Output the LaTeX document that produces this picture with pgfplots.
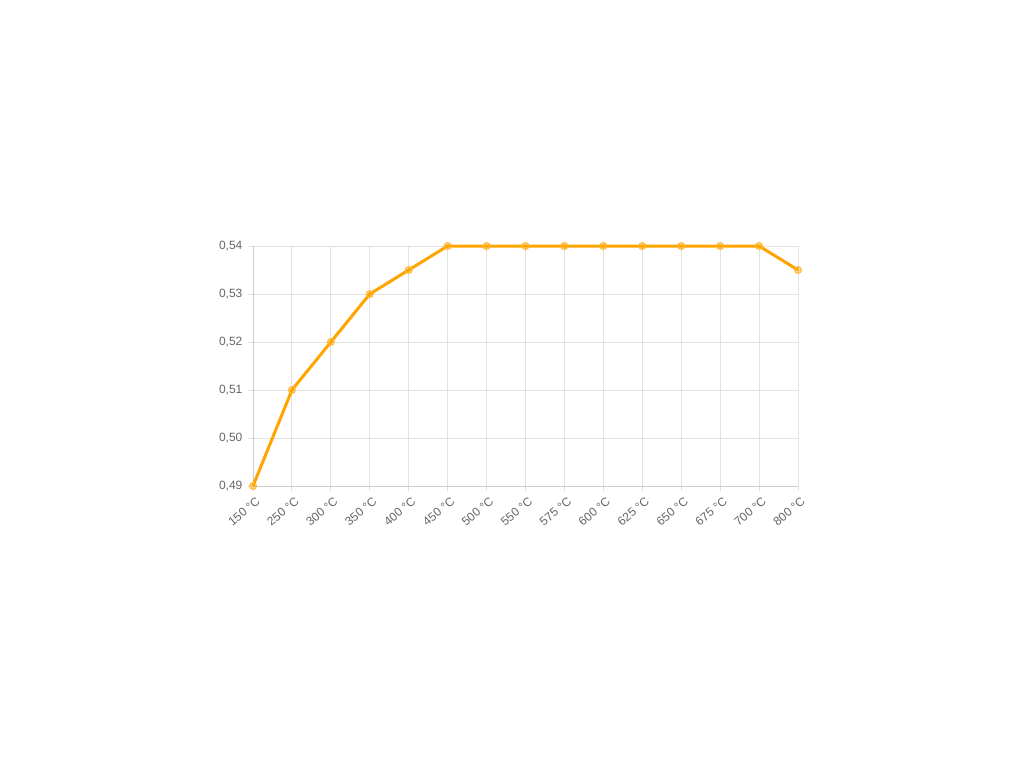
\documentclass[border=0pt]{standalone}
\usepackage{pgfplots}
\pgfplotsset{compat=1.18}
\usepackage{fontspec}
\setmainfont{Liberation Sans}
\definecolor{lineorange}{HTML}{FFA500}
\definecolor{gridgray}{HTML}{E2E2E2}
\definecolor{axisgray}{HTML}{CCCCCC}
\definecolor{labelgray}{HTML}{666666}

\begin{document}
\begin{tikzpicture}[x=0.75pt,y=0.75pt]
% page size 1024x768 px, axis box at px (253,246)-(798,486)
\path[use as bounding box] (-253,-282) rectangle (771,486);
\begin{axis}[
    at={(0,0)}, anchor=south west,
    scale only axis,
    width=408.75pt, height=180pt,
    xmin=0, xmax=14,
    ymin=0.49, ymax=0.54,
    xtick={0,...,14},
    xticklabels={150 °C,250 °C,300 °C,350 °C,400 °C,450 °C,500 °C,550 °C,575 °C,600 °C,625 °C,650 °C,675 °C,700 °C,800 °C},
    ytick={0.49,0.50,0.51,0.52,0.53,0.54},
    /pgf/number format/fixed,
    /pgf/number format/fixed zerofill,
    /pgf/number format/precision=2,
    /pgf/number format/use comma,
    /pgf/number format/assume math mode=true,
    x tick label style={rotate=40, anchor=north east, inner sep=1pt, yshift=-3pt, font=\fontsize{9}{10}\selectfont, text=labelgray},
    y tick label style={font=\fontsize{9}{10}\selectfont, text=labelgray, inner sep=2pt, xshift=-2pt},
    grid=major,
    major grid style={gridgray, line width=0.75pt},
    axis line style={axisgray, line width=0.75pt},
    tick style={gridgray, line width=0.75pt},
    tick align=outside,
    major tick length=3.75pt,
    xtick pos=bottom, ytick pos=left,
    axis lines*=left,
    clip=false,
]
\addplot[color=lineorange, line width=2.25pt,
    mark=*, mark size=2.6pt,
    mark options={line width=0.75pt, draw=lineorange!80, fill=lineorange, fill opacity=0.45}]
    coordinates {
    (0,0.49)(1,0.51)(2,0.52)(3,0.53)(4,0.535)(5,0.54)(6,0.54)(7,0.54)
    (8,0.54)(9,0.54)(10,0.54)(11,0.54)(12,0.54)(13,0.54)(14,0.535)
    };
\end{axis}
\end{tikzpicture}
\end{document}
